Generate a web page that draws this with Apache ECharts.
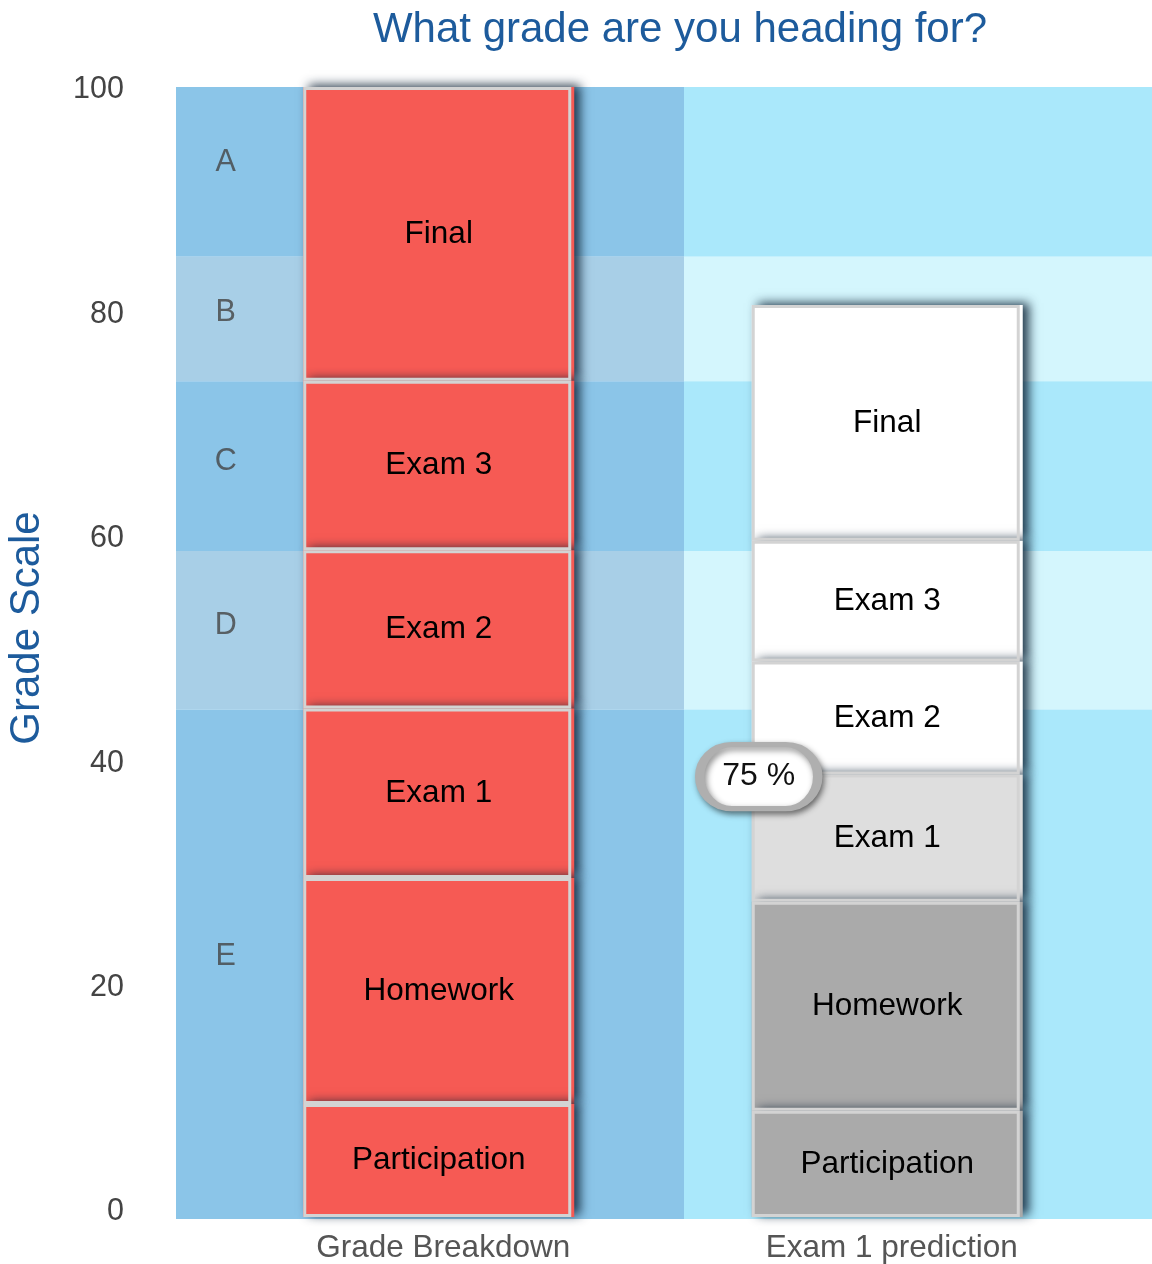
<!DOCTYPE html>
<html>
<head>
<meta charset="utf-8">
<title>What grade are you heading for?</title>
<script src="https://cdn.jsdelivr.net/npm/echarts@6/dist/echarts.min.js"></script>
<style>
  html, body { margin: 0; padding: 0; background: #ffffff; }
  #chart { width: 1152px; height: 1264px; }
</style>
</head>
<body>
<div id="chart"></div>
<script>
// ---- data ----
const categories = ['Grade Breakdown', 'Exam 1 prediction'];
const components = ['Participation', 'Homework', 'Exam 1', 'Exam 2', 'Exam 3', 'Final'];
const breakdown = [10, 20, 15, 14, 15, 26];              // weight of each component (%)
const prediction = [9.4, 18.5, 11.25, 10.0, 10.7, 20.85]; // predicted points earned
const exam1Score = 75;                                   // Exam 1 result, %
const grades = ['A', 'B', 'C', 'D', 'E'];
const gradeLower = [85, 74, 59, 45, 0];
const gradeUpper = [100, 85, 74, 59, 45];
const gradeLabelY = [93.3, 80.1, 66.9, 52.4, 23.2];
const yTicks = [0, 20, 40, 60, 80, 100];

// ---- styling ----
const FONT = 'Liberation Sans, Arial, Helvetica, sans-serif';
const breakdownColor = '#F65A54';
const predictionColors = ['#AAAAAA', '#AAAAAA', '#DEDEDE', '#FFFFFF', '#FFFFFF', '#FFFFFF'];
const bandColorsLeft = ['#8BC5E8', '#A8CFE7'];
const bandColorsRight = ['#AAE8FB', '#D4F6FD'];
const columnSplit = 52.05; // where the breakdown column ends, % of plot width

const chart = echarts.init(document.getElementById('chart'), null, { renderer: 'canvas' });

// grade bands behind the bars
const bandAreas = [];
grades.forEach((g, i) => {
  const k = i % 2;
  bandAreas.push([
    { xAxis: 0, yAxis: gradeLower[i], itemStyle: { color: bandColorsLeft[k] } },
    { xAxis: columnSplit, yAxis: gradeUpper[i] }
  ]);
  bandAreas.push([
    { xAxis: columnSplit, yAxis: gradeLower[i], itemStyle: { color: bandColorsRight[k] } },
    { xAxis: 100, yAxis: gradeUpper[i] }
  ]);
});

const exam1Index = components.indexOf('Exam 1');
const exam1Top = prediction.slice(0, exam1Index + 1).reduce((a, b) => a + b, 0);

// filled segments with a drop shadow (lower segments painted last)
const fillSeries = components.map((name, i) => ({
  name: name,
  type: 'bar',
  stack: 'fill',
  xAxisIndex: 1,
  yAxisIndex: 1,
  barWidth: 271,
  barGap: '-100%',
  z: 10 - i,
  data: [
    { value: breakdown[i], itemStyle: { color: breakdownColor } },
    { value: prediction[i], itemStyle: { color: predictionColors[i] } }
  ],
  itemStyle: {
    borderWidth: 0,
    shadowColor: 'rgba(10,30,50,0.85)',
    shadowBlur: 10,
    shadowOffsetX: 6,
    shadowOffsetY: -2
  },
  label: {
    show: true,
    position: 'inside',
    formatter: name,
    fontFamily: FONT,
    fontSize: 31.5,
    color: '#000000'
  },
  emphasis: { disabled: true },
  silent: true,
  animation: false
}));

// light grey frame around every segment
const outlineSeries = components.map((name, i) => {
  const s = {
    name: name + ' frame',
    type: 'bar',
    stack: 'frame',
    xAxisIndex: 1,
    yAxisIndex: 1,
    barWidth: 268,
    barGap: '-100%',
    z: 20,
    data: [breakdown[i], prediction[i]],
    itemStyle: { color: 'rgba(0,0,0,0)', borderColor: '#D3D3D3', borderWidth: 3 },
    emphasis: { disabled: true },
    silent: true,
    animation: false
  };
  if (i === exam1Index) {
    s.markPoint = {
      z: 30,
      symbol: 'path://M32,0 H86 A32,32 0 0 1 86,64 H32 A32,32 0 0 1 32,0 Z',
      symbolSize: [118, 64],
      symbolOffset: [-127, 2],
      symbolKeepAspect: false,
      itemStyle: {
        color: '#FFFFFF',
        borderColor: '#AFAFAF',
        borderWidth: 7,
        shadowColor: 'rgba(0,0,0,0.45)',
        shadowBlur: 6,
        shadowOffsetX: 2,
        shadowOffsetY: 3
      },
      label: {
        show: true,
        position: 'inside',
        formatter: exam1Score + ' %',
        fontFamily: FONT,
        fontSize: 32,
        color: '#111111'
      },
      data: [{ coord: [1, exam1Top], value: exam1Score }],
      silent: true,
      animation: false
    };
  }
  return s;
});

const option = {
  backgroundColor: '#ffffff',
  animation: false,
  title: {
    text: 'What grade are you heading for?',
    left: 675,
    top: 4,
    textAlign: 'center',
    textStyle: { fontFamily: FONT, fontSize: 42, fontWeight: 'normal', color: '#1D5B9C' }
  },
  grid: [
    // background bands
    { left: 176, right: 0, top: 87, height: 1132 },
    // bars
    { left: 213, right: 42, top: 87, height: 1132 },
    // value scale labels
    { left: 176, width: 10, top: 90, height: 1122 }
  ],
  xAxis: [
    { gridIndex: 0, type: 'value', min: 0, max: 100, show: false },
    {
      gridIndex: 1,
      type: 'category',
      data: categories,
      axisLine: { show: false },
      axisTick: { show: false },
      axisLabel: {
        margin: 15,
        padding: [0, 0, 0, 12],
        fontFamily: FONT,
        fontSize: 31.5,
        color: '#555555'
      }
    },
    { gridIndex: 2, type: 'value', show: false }
  ],
  yAxis: [
    { gridIndex: 0, type: 'value', min: 0, max: 100, show: false },
    { gridIndex: 1, type: 'value', min: 0, max: 100, show: false },
    {
      gridIndex: 2,
      type: 'value',
      min: yTicks[0],
      max: yTicks[yTicks.length - 1],
      interval: yTicks[1] - yTicks[0],
      name: 'Grade Scale',
      nameLocation: 'middle',
      nameGap: 128,
      nameTextStyle: {
        fontFamily: FONT,
        fontSize: 42,
        color: '#1D5B9C',
        padding: [0, 0, 0, 46]
      },
      axisLine: { show: false },
      axisTick: { show: false },
      splitLine: { show: false },
      axisLabel: { margin: 52, fontFamily: FONT, fontSize: 30.5, color: '#444444' }
    }
  ],
  series: [
    {
      name: 'bands',
      type: 'scatter',
      xAxisIndex: 0,
      yAxisIndex: 0,
      z: 1,
      symbolSize: 0,
      silent: true,
      data: grades.map((g, i) => ({ value: [5.1, gradeLabelY[i]], name: g })),
      label: {
        show: true,
        position: 'inside',
        formatter: p => p.name,
        fontFamily: FONT,
        fontSize: 30.5,
        color: '#444444'
      },
      markArea: { silent: true, z: 0, data: bandAreas },
      animation: false
    },
    // keeps the label-only axis grid alive
    {
      type: 'scatter',
      xAxisIndex: 2,
      yAxisIndex: 2,
      symbolSize: 0,
      silent: true,
      data: []
    }
  ].concat(fillSeries, outlineSeries)
};

chart.setOption(option);
</script>
</body>
</html>
